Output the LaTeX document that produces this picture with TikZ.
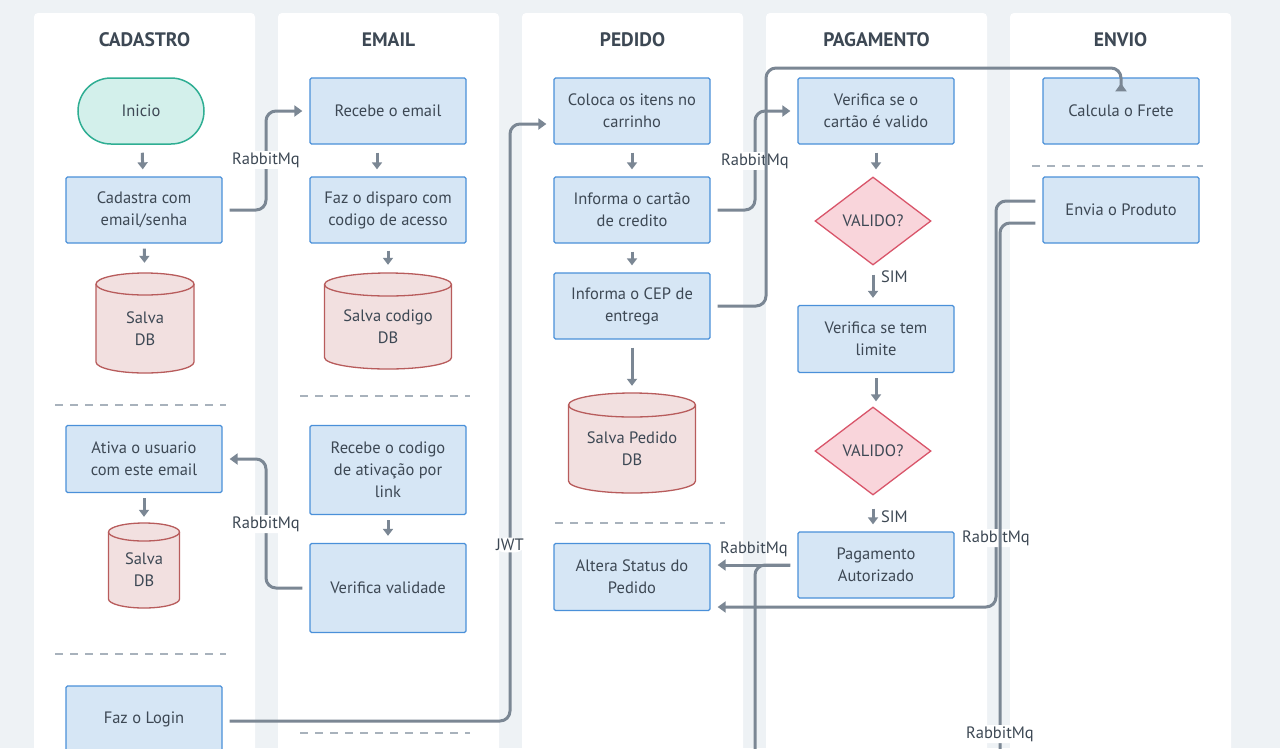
\documentclass[tikz,border=0pt]{standalone}
\usepackage{fontspec}
\setmainfont{PT Sans}
\usepackage{xcolor}
\usepackage{tikz}
\usetikzlibrary{positioning, calc, arrows.meta, shapes.geometric}
\definecolor{PageBg}{HTML}{EEF2F5}
\definecolor{InkDark}{HTML}{3D4854}
\definecolor{BoxFill}{HTML}{D6E6F5}
\definecolor{BoxLine}{HTML}{4A90D9}
\definecolor{DbFill}{HTML}{F2E0E0}
\definecolor{DbLine}{HTML}{B85C5C}
\definecolor{DecFill}{HTML}{F9D5DB}
\definecolor{DecLine}{HTML}{D9556A}
\definecolor{StartFill}{HTML}{D3F0EB}
\definecolor{StartLine}{HTML}{2FAE93}
\definecolor{FlowGray}{HTML}{7B8794}
\definecolor{SepGray}{HTML}{A8B2BC}
\tikzset{
    lane/.style={
        fill=white, rounded corners=4pt
    },
    lanetitle/.style={
        font=\bfseries\fontsize{19.5}{22}\selectfont, text=InkDark
    },
    stepbox/.style={
        rectangle, draw=BoxLine, fill=BoxFill, line width=1.3pt, rounded corners=1.5pt,
        minimum width=156pt, minimum height=66pt, align=center,
        font=\fontsize{16.5}{22}\selectfont, text=InkDark
    },
    startbox/.style={
        rectangle, draw=StartLine, fill=StartFill, line width=1.5pt, rounded corners=33pt,
        minimum width=126pt, minimum height=66pt,
        font=\fontsize{16.5}{22}\selectfont, text=InkDark
    },
    dbshape/.style={
        draw=DbLine, fill=DbFill, line width=1.3pt
    },
    dbtext/.style={
        align=center, inner sep=0pt,
        font=\fontsize{16.5}{22}\selectfont, text=InkDark
    },
    decision/.style={
        diamond, draw=DecLine, fill=DecFill, line width=1.3pt, inner sep=0pt,
        minimum width=116pt, minimum height=88pt,
        font=\fontsize{16.5}{22}\selectfont, text=InkDark
    },
    flow/.style={
        line width=3pt, draw=FlowGray, rounded corners=10pt,
        -{Triangle[width=11pt,length=8pt]}, shorten <=7pt, shorten >=7pt
    },
    flowplain/.style={
        line width=3pt, draw=FlowGray, rounded corners=10pt, shorten <=7pt
    },
    stepflow/.style={
        line width=3pt, draw=FlowGray,
        -{Triangle[width=10pt,length=7pt]}, shorten <=8pt, shorten >=7pt
    },
    msg/.style={
        fill=white, inner sep=1.5pt, text=InkDark,
        font=\fontsize{16.5}{18}\selectfont
    },
    sep/.style={
        draw=SepGray, line width=1.4pt, dash pattern=on 8pt off 7pt
    }
}
% banco de dados: nome, x, y, largura, altura, raio da elipse, texto
\newcommand{\banco}[7]{%
    \path[dbshape] (#2-#4/2,#3-#5/2+#6) -- (#2-#4/2,#3+#5/2-#6)
        arc[start angle=180, end angle=0, x radius=#4/2, y radius=#6]
        -- (#2+#4/2,#3-#5/2+#6)
        arc[start angle=0, end angle=-180, x radius=#4/2, y radius=#6] -- cycle;
    \draw[DbLine, line width=1.3pt] (#2-#4/2,#3-#5/2+#6)
        arc[start angle=180, end angle=0, x radius=#4/2, y radius=#6];
    \node[minimum width=#4pt, minimum height=#5pt, inner sep=0pt] (#1) at (#2,#3) {};
    \node[dbtext] (#1-txt) at (#2,#3+#6/2) {#7};
}
\begin{document}
\begin{tikzpicture}[x=1pt, y=-1pt]
    \useasboundingbox (0,0) rectangle (1280,748);
    \clip (0,0) rectangle (1280,748);
    \fill[PageBg] (0,0) rectangle (1280,748);

    % --- raias ---
    \foreach \lx/\lname in {34/CADASTRO, 278/EMAIL, 522/PEDIDO, 766/PAGAMENTO, 1010/ENVIO} {
        \fill[lane] (\lx,13) rectangle ++(221,780);
        \node[lanetitle] (titulo-\lname) at (\lx+110.5,40) {\lname};
    }

    % --- CADASTRO ---
    \node[startbox] (inicio) at (141,111) {Inicio};
    \node[stepbox] (cadastra) at (144,210) {Cadastra com\\email/senha};
    \banco{db1}{145}{323}{98}{100}{11}{Salva\\DB}
    \node[stepbox, minimum height=67pt] (ativa) at (144,459) {Ativa o usuario\\com este email};
    \banco{db2}{144}{565.5}{71}{85}{9}{Salva\\DB}
    \node[stepbox] (login) at (144,719) {Faz o Login};
    \draw[sep] (55,405) -- (226,405);
    \draw[sep] (55,654) -- (226,654);

    % --- EMAIL ---
    \node[stepbox] (recebe) at (388,111) {Recebe o email};
    \node[stepbox] (disparo) at (388,210) {Faz o disparo com\\codigo de acesso};
    \banco{db3}{388}{321}{127}{96}{11.5}{Salva codigo\\DB}
    \node[stepbox, minimum height=89pt] (codigo) at (388,470) {Recebe o codigo\\de ativação por\\link};
    \node[stepbox, minimum height=89pt] (validade) at (388,588) {Verifica validade};
    \draw[sep] (300,396) -- (470,396);
    \draw[sep] (300,733) -- (470,733);

    % --- PEDIDO ---
    \node[stepbox] (coloca) at (632,111) {Coloca os itens no\\carrinho};
    \node[stepbox] (cartao) at (632,210) {Informa o cartão\\de credito};
    \node[stepbox] (cep) at (632,306) {Informa o CEP de\\entrega};
    \banco{db4}{632}{443}{127}{100}{12}{Salva Pedido\\DB}
    \node[stepbox, minimum height=67pt] (altera) at (632,577) {Altera Status do\\Pedido};
    \draw[sep] (555,523) -- (725,523);

    % --- PAGAMENTO ---
    \node[stepbox] (verifica) at (876,111) {Verifica se o\\cartão é valido};
    \node[decision] (valido1) at (873,221) {VALIDO?};
    \node[stepbox, minimum height=67pt] (limite) at (876,339) {Verifica se tem\\limite};
    \node[decision] (valido2) at (873,451) {VALIDO?};
    \node[stepbox] (pagamento) at (876,565) {Pagamento\\Autorizado};

    % --- ENVIO ---
    \node[stepbox] (frete) at (1121,111) {Calcula o Frete};
    \node[stepbox] (envia) at (1121,210) {Envia o Produto};
    \draw[sep] (1032,166) -- (1203,166);

    % --- passos dentro das raias ---
    \draw[stepflow] (inicio) -- (cadastra);
    \draw[stepflow, shorten <=5pt, shorten >=10pt] (cadastra) -- (db1);
    \draw[stepflow, shorten <=5pt, shorten >=6pt] (ativa) -- (db2);
    \draw[stepflow] ([xshift=-11pt]recebe.south) -- ([xshift=-11pt]disparo.north);
    \draw[stepflow, shorten <=7pt, shorten >=8pt] (disparo) -- (db3);
    \draw[stepflow, shorten <=5pt, shorten >=7pt] (codigo) -- (validade);
    \draw[stepflow] (coloca) -- (cartao);
    \draw[stepflow] (cartao) -- (cep);
    \draw[stepflow] (cep) -- (db4);
    \draw[stepflow] (verifica) -- (verifica |- valido1.north);
    \draw[stepflow, shorten <=9pt] (valido1.south) -- node[pos=0.27, anchor=west, xshift=5pt, msg, fill=none] (sim1) {SIM} (valido1.south |- limite.north);
    \draw[stepflow, shorten <=5pt, shorten >=5pt] (limite) -- (limite |- valido2.north);
    \draw[stepflow, shorten <=13pt] (valido2.south) -- node[pos=0.6, anchor=west, xshift=5pt, msg, fill=none] (sim2) {SIM} (valido2.south |- pagamento.north);

    % --- mensagens entre raias ---
    \draw[flow] (cadastra.east) -| (266,160) node[msg] (msg1) {RabbitMq} |- (recebe.west);
    \draw[flow] (validade.west) -| (266,524) node[msg] (msg2) {RabbitMq} |- (ativa.east);
    \draw[flow] ([yshift=-2pt]login.east) -| (510,545) node[msg] (msg3) {JWT} |- ([yshift=-13pt]coloca.west);
    \draw[flow] (cartao.east) -| (755,161) node[msg] (msg4) {RabbitMq} |- (verifica.west);
    \draw[flow, shorten >=6pt] (cep.east) -| (766,68) -| (frete.north);
    \draw[flowplain] (pagamento.west) -| (755,770);
    \draw[flow] (pagamento.west) -- node[msg, above=5pt, fill=none] (msg5) {RabbitMq} (pagamento.west -| altera.east);
    \draw[flow] ([yshift=9pt]envia.west) -| (996,538) node[msg] (msg6) {RabbitMq} |- ([yshift=-30pt]altera.east);
    \draw[flowplain] ([yshift=-13pt]envia.west) -| (1000,734) node[msg] (msg7) {RabbitMq} -- (1000,770);
\end{tikzpicture}
\end{document}
